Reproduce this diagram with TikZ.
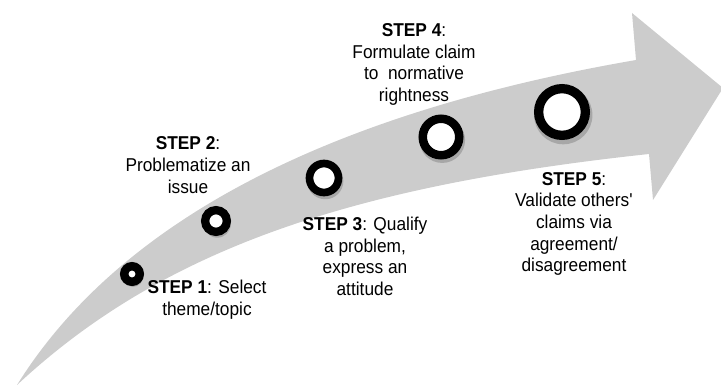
\documentclass[tikz,border=0pt]{standalone}
\usepackage{fontspec}
\setmainfont{Liberation Sans}[FakeStretch=0.93]
\usetikzlibrary{shadows}
\definecolor{arrowgray}{RGB}{204,204,204}
\begin{document}
\begin{tikzpicture}[x=1pt,y=-1pt,
  ring/.style={circle, draw=black, fill=white, inner sep=0pt,
    drop shadow={shadow xshift=1pt, shadow yshift=-2.5pt, opacity=0.18, fill=black, shadow scale=1.25}},
  lbl/.style={align=center, inner sep=0pt, font=\fontsize{18.6}{21.7}\selectfont}]
\useasboundingbox (0,0) rectangle (721,385);
% big curved arrow
\fill[arrowgray] (17,385) .. controls (123,215) and (340,111) .. (636,60)
  -- (632,13) -- (723,88) -- (653,200) -- (649,154)
  .. controls (351,186) and (163,249) .. (17,385) -- cycle;
% step circles
\node[ring, minimum size=15.5pt, line width=8.5pt] (c1) at (132,274) {};
\node[ring, minimum size=21.7pt, line width=8.3pt] (c2) at (216,221) {};
\node[ring, minimum size=29pt, line width=7.7pt] (c3) at (324,178) {};
\node[ring, minimum size=36.5pt, line width=8.5pt] (c4) at (441,137) {};
\node[ring, minimum size=46.7pt, line width=9.3pt] (c5) at (562,112) {};
% labels
\node[lbl] (t1) at (207,300) {\textbf{STEP 1}: Select\\theme/topic};
\node[lbl] (t2) at (188,165) {\textbf{STEP 2}:\\Problematize an\\issue};
\node[lbl] (t3) at (365,256.5) {\textbf{STEP 3}: Qualify\\a problem,\\express an\\attitude};
\node[lbl] (t4) at (414,64.5) {\textbf{STEP 4}:\\Formulate claim\\to\ \ normative\\rightness};
\node[lbl] (t5) at (574,224) {\textbf{STEP 5}:\\Validate others\textquotesingle\\claims via\\agreement/\\disagreement};
\end{tikzpicture}
\end{document}
